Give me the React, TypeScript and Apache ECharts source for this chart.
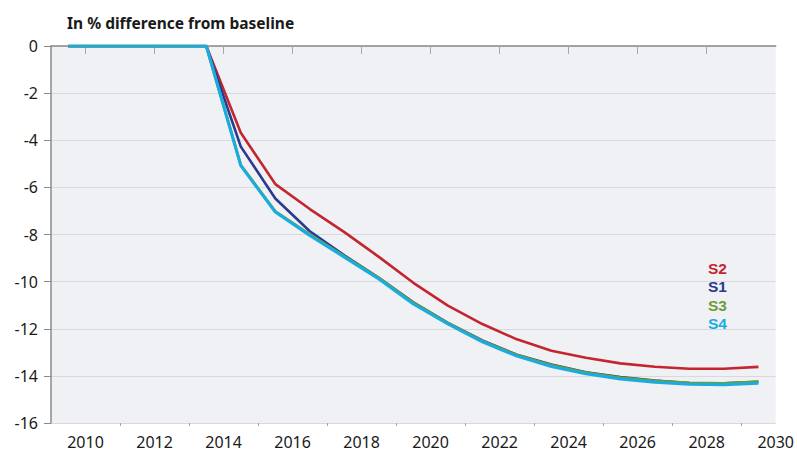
import React, { useEffect, useRef } from "react";
import * as echarts from "echarts";

const years = [
  2009.5, 2010.5, 2011.5, 2012.5, 2013.5, 2014.5, 2015.5, 2016.5, 2017.5, 2018.5, 2019.5,
  2020.5, 2021.5, 2022.5, 2023.5, 2024.5, 2025.5, 2026.5, 2027.5, 2028.5, 2029.5,
];
const s2 = [0, 0, 0, 0, 0, -3.68, -5.86, -6.92, -7.9, -8.95, -10.05, -11.02, -11.8, -12.45, -12.93, -13.23, -13.47, -13.61, -13.7, -13.7, -13.62];
const s1 = [0, 0, 0, 0, 0, -4.27, -6.47, -7.86, -8.88, -9.84, -10.88, -11.75, -12.5, -13.1, -13.52, -13.85, -14.05, -14.2, -14.3, -14.32, -14.25];
const s3 = [0, 0, 0, 0, 0, -5.05, -7.02, -8.0, -8.92, -9.84, -10.9, -11.76, -12.52, -13.12, -13.54, -13.86, -14.07, -14.21, -14.3, -14.32, -14.24];
const s4 = [0, 0, 0, 0, 0, -5.08, -7.05, -8.04, -8.96, -9.89, -10.95, -11.8, -12.56, -13.16, -13.6, -13.91, -14.13, -14.27, -14.36, -14.38, -14.31];

const majorTicks = [2010, 2012, 2014, 2016, 2018, 2020, 2022, 2024, 2026, 2028];
const minorTicks = [2011, 2013, 2015, 2017, 2019, 2021, 2023, 2025, 2027, 2029];
const xLabels = [2010, 2012, 2014, 2016, 2018, 2020, 2022, 2024, 2026, 2028, 2030];

const seriesDefs = [
  { name: "S2", data: s2, color: "#c3262f", width: 2.6 },
  { name: "S1", data: s1, color: "#2b3a8f", width: 2.6 },
  { name: "S3", data: s3, color: "#6c9d35", width: 2.8 },
  { name: "S4", data: s4, color: "#19ace3", width: 3.0 },
];
const legendOrder = ["S2", "S1", "S3", "S4"];

const FONT = "'Noto Sans', 'Open Sans', sans-serif";
const LEGEND_FONT = "'Liberation Sans', Arial, sans-serif";

export default function App() {
  const ref = useRef<HTMLDivElement>(null);
  useEffect(() => {
    if (!ref.current) return;
    const chart = echarts.init(ref.current, null, { renderer: "svg" });
    const grid = { left: 51, right: 18, top: 46, bottom: 29 };
    const legendTexts = legendOrder.map((n, i) => {
      const d = seriesDefs.find((s) => s.name === n)!;
      return {
        type: "text",
        x: 708,
        y: 268 + i * 18.5,
        style: {
          text: n,
          fill: d.color,
          fontFamily: LEGEND_FONT,
          fontSize: 15.5,
          fontWeight: "bold",
          lineHeight: 17,
          verticalAlign: "middle",
          align: "left",
        },
      };
    });
    chart.setOption({
      animation: false,
      backgroundColor: "#ffffff",
      textStyle: { fontFamily: FONT },
      title: {
        text: "In % difference from baseline",
        left: 62,
        top: 10,
        textStyle: { fontSize: 15.5, fontWeight: "bold", color: "#1a1a1a", fontFamily: FONT },
      },
      grid: { ...grid, show: true, backgroundColor: "#f0f1f4", borderWidth: 0 },
      xAxis: [
        {
          type: "value",
          min: 2009,
          max: 2030,
          position: "bottom",
          axisLine: { show: false },
          axisTick: {
            show: true,
            customValues: majorTicks,
            length: 8,
            lineStyle: { color: "#a6a6a6", width: 1 },
          },
          axisLabel: {
            customValues: xLabels,
            fontSize: 16,
            lineHeight: 16,
            color: "#1a1a1a",
            margin: 11,
            formatter: (v: number) => String(v),
          },
          splitLine: { show: false },
        },
        {
          type: "value",
          min: 2009,
          max: 2030,
          position: "bottom",
          axisLine: { show: false },
          axisTick: {
            show: true,
            customValues: minorTicks,
            length: 3,
            lineStyle: { color: "#a6a6a6", width: 1 },
          },
          axisLabel: { show: false },
          splitLine: { show: false },
        },
        {
          type: "value",
          min: 2009,
          max: 2030,
          position: "top",
          axisLine: { show: true, lineStyle: { color: "#8a8a8a", width: 1.5 } },
          axisTick: { show: false },
          axisLabel: { show: false },
          splitLine: { show: false },
        },
      ],
      yAxis: {
        type: "value",
        min: -16,
        max: 0,
        interval: 2,
        axisLine: { show: true, lineStyle: { color: "#8a8a8a", width: 1.5 } },
        axisTick: { show: true, length: 7, lineStyle: { color: "#8a8a8a" } },
        axisLabel: { fontSize: 16, color: "#1a1a1a", margin: 13 },
        splitLine: { show: true, lineStyle: { color: "#d8d9dc", width: 1 } },
      },
      graphic: legendTexts,
      series: seriesDefs.map((s) => ({
        name: s.name,
        type: "line",
        xAxisIndex: 0,
        showSymbol: false,
        symbol: "none",
        lineStyle: { color: s.color, width: s.width },
        itemStyle: { color: s.color },
        data: years.map((y, i) => [y, s.data[i]]),
      })),
    });
    return () => chart.dispose();
  }, []);
  return (
    <div
      ref={ref}
      style={{ position: "fixed", left: 0, top: 0, width: 797, height: 452 }}
    />
  );
}
